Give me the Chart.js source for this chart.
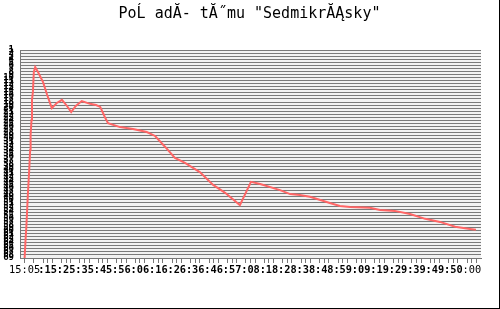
<!DOCTYPE html>
<html>
<head>
<meta charset="utf-8">
<script src="https://cdn.jsdelivr.net/npm/chart.js@4"></script>
<style>
  html, body { margin: 0; padding: 0; background: #fff; }
  #wrap { width: 499px; height: 308px; border-right: 1px solid #000; border-bottom: 1px solid #000; }
</style>
</head>
<body>
<div id="wrap"><canvas id="rankChart" width="499" height="308"></canvas></div>
<script>
// Průběh pořadí v čase (x = čas, y = pořadí)
const timeX = [1.0, 1.2, 1.4, 1.7, 2.0, 2.2, 2.3, 2.5, 2.6, 2.8, 3.0, 3.3, 3.9, 5.0, 5.9, 6.9, 8.0, 9.1,
    10.2, 11.1, 12.1, 13.4, 15.2, 16.5, 17.4, 18.4, 19.1, 21.7, 24.5, 27.5, 29.3, 31.5, 33.6, 35.8,
    39.0, 41.9, 44.5, 47.7, 50.1, 52.1, 56.4, 58.6, 60.7, 62.9, 67.2, 69.4, 71.6, 75.9, 78.1, 81.3,
    84.6, 87.9, 91.1, 94.4, 97.6, 98.9];
const rankY = [69, 63.1, 58.2, 48.4, 40.2, 33.7, 28.8, 23.9, 17.3, 14.7, 8.2, 6.6, 8.2, 11.5, 15.7, 20.0, 18.3, 17.3,
    19.3, 21.3, 19.3, 17.7, 18.6, 19.0, 19.6, 22.9, 24.9, 26.2, 26.8, 27.8, 29.1, 32.7, 36.3, 37.9,
    40.9, 45.1, 47.7, 51.7, 44.1, 44.8, 46.8, 48.1, 48.4, 49.0, 51.0, 52.0, 52.3, 52.6, 53.3, 53.6,
    54.6, 56.2, 57.2, 58.8, 59.5, 59.8];

// Popisky osy x (tak jak jsou vidět)
const labelPos = [1, 6, 10, 14, 18, 22, 26, 30, 34, 38, 42, 46, 50, 54, 58, 62, 66, 70, 74, 78, 82, 86, 90, 94, 98];
const labelText = ["15:05", ":15", ":25", ":35", ":45", ":56", ":06", ":16", ":26", ":36", ":46", ":57",
    ":08", ":18", ":28", ":38", ":48", ":59", ":09", ":19", ":29", ":39", ":49", ":50", ":00"];

const rankMin = 1;
const rankMax = 69;

// pozadí grafu
const plotBg = {
    id: "plotBg",
    beforeDraw(chart) {
        const a = chart.chartArea;
        const ctx = chart.ctx;
        ctx.save();
        ctx.fillStyle = "#f2f2f2";
        ctx.fillRect(a.left, a.top, a.right - a.left, a.bottom - a.top);
        ctx.restore();
    }
};

const ctx = document.getElementById("rankChart").getContext("2d");
new Chart(ctx, {
    type: "line",
    data: {
        datasets: [{
            data: timeX.map((x, i) => ({ x: x, y: rankY[i] })),
            borderColor: "#ff6666",
            borderWidth: 2,
            pointRadius: 0,
            tension: 0,
            fill: false
        }]
    },
    options: {
        responsive: false,
        animation: false,
        layout: { padding: 0 },
        plugins: {
            legend: { display: false },
            tooltip: { enabled: false },
            title: {
                display: true,
                text: 'PoĹ adĂ- tĂ˝mu "SedmikrĂĄsky"',
                color: "#000",
                font: { family: "DejaVu Sans Mono", size: 15, weight: "normal" },
                padding: { top: 5, bottom: 27 }
            }
        },
        scales: {
            x: {
                type: "linear",
                min: 0,
                max: 100,
                afterBuildTicks: scale => {
                    const t = [];
                    for (let v = 1; v <= 99; v += 2) t.push({ value: v });
                    labelPos.forEach(v => { if (v % 2 === 0) t.push({ value: v }); });
                    t.sort((a, b) => a.value - b.value);
                    scale.ticks = t;
                },
                afterFit: scale => { scale.height = 50; },
                grid: { drawOnChartArea: false, drawTicks: true, tickLength: 5, color: "#777" },
                border: { display: true, color: "#777" },
                ticks: {
                    autoSkip: false,
                    maxRotation: 0,
                    minRotation: 0,
                    padding: 1,
                    color: "#000",
                    font: c => ({
                        family: "DejaVu Sans Mono",
                        size: 10.3,
                        weight: (c.tick && labelPos.indexOf(c.tick.value) > 0 && labelPos.indexOf(c.tick.value) < labelPos.length - 1) ? "bold" : "normal"
                    }),
                    callback: v => {
                        const i = labelPos.indexOf(v);
                        return i >= 0 ? labelText[i] : "";
                    }
                }
            },
            y: {
                type: "linear",
                reverse: true,
                min: rankMin,
                max: rankMax,
                afterFit: scale => { scale.width = 20; },
                grid: { color: "#7a7a7a", lineWidth: 1, drawTicks: false },
                border: { display: true, color: "#777" },
                ticks: {
                    stepSize: 1,
                    autoSkip: false,
                    maxTicksLimit: 100,
                    padding: 6,
                    color: "#000",
                    font: { family: "DejaVu Sans Mono", size: 9, weight: "bold" },
                    callback: v => String(v)
                }
            },
            // prázdný okraj vpravo
            yRight: {
                type: "linear",
                position: "right",
                reverse: true,
                min: rankMin,
                max: rankMax,
                afterFit: scale => { scale.width = 18; },
                grid: { display: false },
                border: { display: false },
                ticks: { display: false }
            }
        }
    },
    plugins: [plotBg]
});
</script>
</body>
</html>
